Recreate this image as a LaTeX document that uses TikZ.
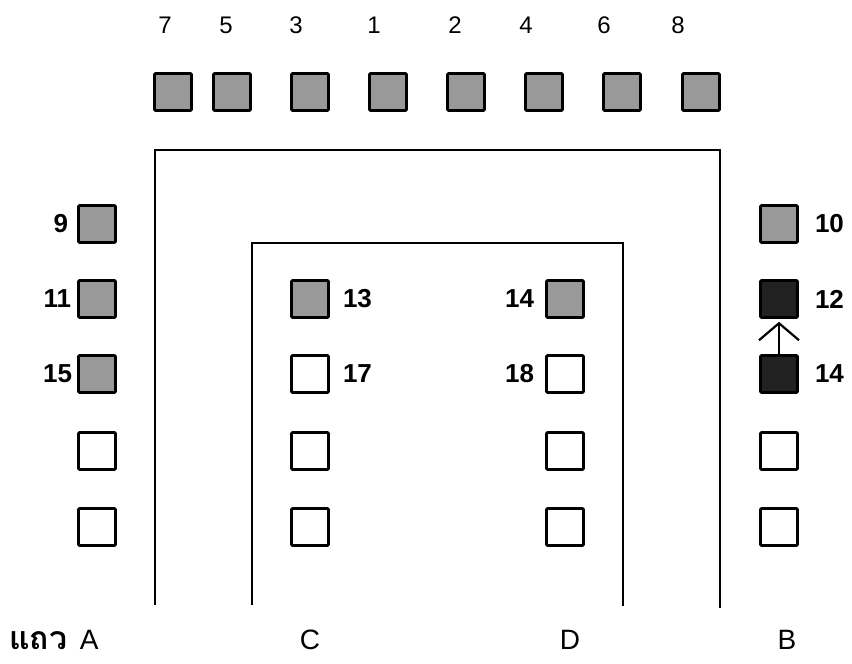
\documentclass[tikz,border=0pt]{standalone}
\usepackage{fontspec}
\setmainfont{Liberation Sans}
\setsansfont{Liberation Sans}
\newfontfamily\thaifont[Script=Thai]{Loma}
\usepackage{xcolor}
\usepackage{tikz}
\usetikzlibrary{arrows.meta,positioning}

\definecolor{seatgrey}{gray}{0.6}
\definecolor{seatdark}{gray}{0.13}

\begin{document}
\begin{tikzpicture}[x=1pt, y=-1pt,
    every node/.style={font=\sffamily\fontsize{24}{28}\selectfont},
    seat/.style={draw, line width=2.6pt, rounded corners=1pt, minimum size=37pt, inner sep=0pt},
    full/.style={seat, fill=seatgrey},
    dark/.style={seat, fill=seatdark},
    num/.style={font=\sffamily\bfseries\fontsize{26}{30}\selectfont, inner sep=3pt},
    row/.style={font=\sffamily\fontsize{28}{32}\selectfont, anchor=base},
    wall/.style={line width=2.8pt}]
  \useasboundingbox (0,0) rectangle (852,664);
  % top row
  \foreach \n/\x/\lx in {7/173/165, 5/232/226, 3/310/296, 1/388/374, 2/466/455, 4/544/526, 6/622/604, 8/701/678} {
    \node[full] (t\n) at (\x,92) {};
    \node[anchor=base] (tl\n) at (\lx,33) {\n};
  }
  % row A
  \node[full] (a9)  at (97,224) {};
  \node[full] (a11) at (97,299) {};
  \node[full] (a15) at (97,374) {};
  \node[seat] (a4)  at (97,451) {};
  \node[seat] (a5)  at (97,527) {};
  \node[num, left=6pt of a9]  {9};
  \node[num, left=3pt of a11] {11};
  \node[num, left=2pt of a15] {15};
  % row C
  \node[full] (c13) at (310,299) {};
  \node[seat] (c17) at (310,374) {};
  \node[seat] (c3)  at (310,451) {};
  \node[seat] (c4)  at (310,527) {};
  \node[num, right=10pt of c13] {13};
  \node[num, right=10pt of c17] {17};
  % row D
  \node[full] (d14) at (565,299) {};
  \node[seat] (d18) at (565,374) {};
  \node[seat] (d3)  at (565,451) {};
  \node[seat] (d4)  at (565,527) {};
  \node[num, left=8pt of d14] {14};
  \node[num, left=8pt of d18] {18};
  % row B
  \node[full] (b10) at (779,224) {};
  \node[dark] (b12) at (779,299) {};
  \node[dark] (b14) at (779,374) {};
  \node[seat] (b4)  at (779,451) {};
  \node[seat] (b5)  at (779,527) {};
  \node[num, right=13pt of b10] {10};
  \node[num, right=13pt of b12] {12};
  \node[num, right=13pt of b14] {14};
  \draw[line width=2.2pt, -{Straight Barb[length=17pt, width=40pt]}, shorten >=3pt] (b14.north) -- (b12.south);
  % walls
  \draw[wall] (155,605) -- (155,150) -- (720,150) -- (720,608);
  \draw[wall] (252,605) -- (252,243) -- (623,243) -- (623,606);
  % row names
  \node[row, anchor=base west, inner sep=0pt] (rowA) at (9,649) {{\thaifont\bfseries\fontsize{32}{36}\selectfont แถว}\hspace{0.45em}A};
  \node[row] (rowC) at (310,649) {C};
  \node[row] (rowD) at (570,649) {D};
  \node[row] (rowB) at (787,649) {B};
\end{tikzpicture}
\end{document}
